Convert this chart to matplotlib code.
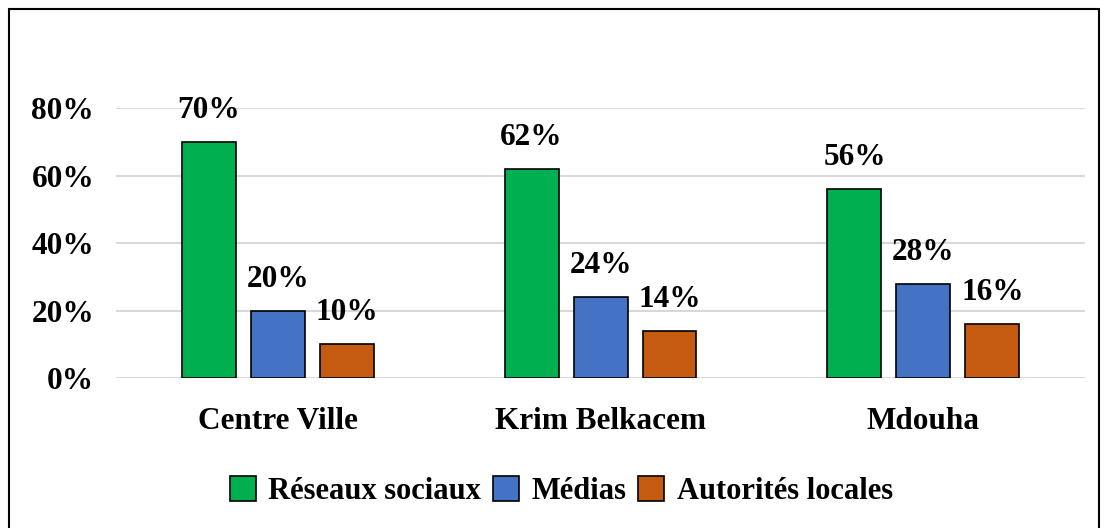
import numpy as np
import matplotlib.pyplot as plt
from matplotlib.patches import Rectangle

categories = ["Centre Ville", "Krim Belkacem", "Mdouha"]
series_names = ["Réseaux sociaux", "Médias", "Autorités locales"]
reseaux = [70, 62, 56]
medias = [20, 24, 28]
autorites = [10, 14, 16]
yticks = [0, 20, 40, 60, 80]

colors = ["#00b050", "#4472c4", "#c55a11"]

plt.rcParams['font.family'] = ['Liberation Serif', 'DejaVu Serif']
plt.rcParams['font.weight'] = 'bold'

fig = plt.figure(figsize=(11.07, 5.28), dpi=100)
ax = fig.add_axes([0.105, 0.284, 0.875, 0.511])

x = np.arange(len(categories))
width = 0.167
step = 0.2136
for i, (vals, name) in enumerate(zip([reseaux, medias, autorites], series_names)):
    bars = ax.bar(x + (i - 1) * step, vals, width, color=colors[i],
                  edgecolor='black', linewidth=1.2, label=name, zorder=3)
    for b, v in zip(bars, vals):
        ax.text(b.get_x() + b.get_width() / 2, v + 5, f"{v}%", ha='center',
                va='bottom', fontsize=22.5, fontweight='bold')

ax.set_xlim(-0.5, 2.5)
ax.set_ylim(0, 80)
ax.set_yticks(yticks)
ax.set_yticklabels([f"{t}%" for t in yticks], fontsize=22.5, fontweight='bold')
ax.set_xticks(x)
ax.set_xticklabels(categories, fontsize=22.5, fontweight='bold')
ax.tick_params(axis='both', length=0)
ax.tick_params(axis='y', pad=16)
ax.tick_params(axis='x', pad=21)
ax.grid(axis='y', color='#d9d9d9', linewidth=1.5, zorder=0)
for s in ax.spines.values():
    s.set_visible(False)
ax.set_axisbelow(True)

fig.legend(*ax.get_legend_handles_labels(), loc='center', bbox_to_anchor=(0.507, 0.07),
           ncol=3, frameon=False, handlelength=0.85, handleheight=0.85, handletextpad=0.4,
           columnspacing=0.4, prop={'size': 22, 'weight': 'bold'})

fig.add_artist(Rectangle((0.008, -0.05), 0.985, 1.033, transform=fig.transFigure,
                         fill=False, edgecolor='black', linewidth=1.5))

plt.savefig('out.png', dpi=100)
